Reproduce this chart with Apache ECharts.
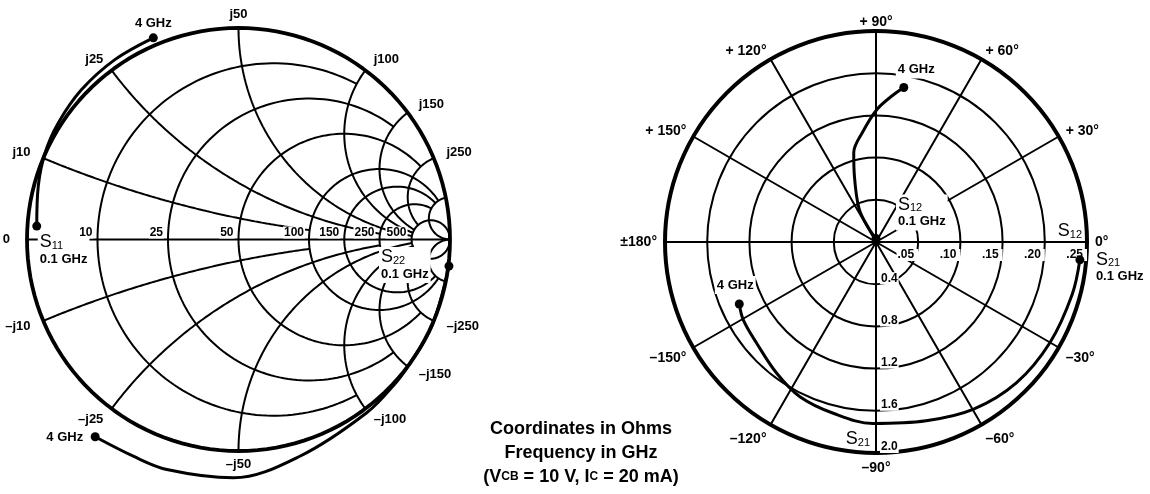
<!DOCTYPE html>
<html>
<head>
<meta charset="utf-8">
<script src="https://cdn.jsdelivr.net/npm/echarts@6/dist/echarts.min.js"></script>
<style>
html,body{margin:0;padding:0;background:#fff;}
#chart{width:1150px;height:494px;}
</style>
</head>
<body>
<div id="chart"></div>
<script>
// Smith chart grid, coordinates in ohms (Z0 = 50)
var z0 = 50;
var resistances = [10, 25, 50, 100, 150, 250, 500];
var resistanceStop = [100, 150, 250, 500, 500, 500, 1e6]; // |reactance| where each r circle stops
var reactances = [10, 25, 50, 100, 150, 250, 500];
var reactanceStop = [100, 250, 500, 500, 500, 500, 1e6];  // resistance where each x arc stops
var reactanceLabels = [10, 25, 50, 100, 150, 250];

// S11, S22 : magnitude / angle (deg), 0.1 GHz -> 4 GHz
var s11Mag = [0.956, 0.98, 1.002, 1.015, 1.026, 1.032, 1.035];
var s11Ang = [176.2, 165, 155.9, 147.1, 136.3, 124.5, 112.9];
var s22Mag = [1.003, 1.002, 1.0, 1.006, 1.019, 1.065, 1.127, 1.139, 1.139, 1.153];
var s22Ang = [-7.2, -24, -35.7, -42.2, -53.5, -74.2, -91.2, -107.3, -115.9, -126];

// S12 (scale .05 ... .25), S21 (scale 0.4 ... 2.0) : magnitude / angle (deg)
var s12Mag = [0.004, 0.018, 0.044, 0.083, 0.109, 0.131, 0.157, 0.174, 0.186];
var s12Ang = [90, 118, 117, 108, 104, 97, 89.6, 83.8, 79.8];
var s21Mag = [1.94, 1.925, 1.905, 1.885, 1.835, 1.76, 1.72, 1.673, 1.634, 1.56, 1.483, 1.459, 1.423];
var s21Ang = [-5, -15, -30, -45, -59.7, -74.3, -91, -104, -116.2, -127.1, -139.7, -149.5, -155.6];

var FONT = 'Liberation Sans';
var D = Math.PI / 180;

function gam(r, x) { // normalized impedance -> reflection coefficient
    var d = (r + 1) * (r + 1) + x * x;
    return [(r * r - 1 + x * x) / d, 2 * x / d];
}
function rCircle(rn, xmax) {
    var c = rn / (1 + rn), R = 1 / (1 + rn);
    var e = gam(rn, xmax);
    var a0 = Math.atan2(e[1], e[0] - c);
    var pts = [], n = 140;
    for (var i = 0; i <= n; i++) {
        var a = a0 + (2 * Math.PI - 2 * a0) * i / n;
        pts.push([c + R * Math.cos(a), R * Math.sin(a)]);
    }
    return pts;
}
function xArc(xn, rmax, sign) {
    var cy = 1 / xn, R = 1 / xn;
    var p0 = gam(0, xn), p1 = gam(rmax, xn);
    var a0 = Math.atan2(p0[1] - cy, p0[0] - 1);
    var a1 = Math.atan2(p1[1] - cy, p1[0] - 1);
    if (a0 < 0) a0 += 2 * Math.PI;
    if (a1 < a0) a1 += 2 * Math.PI;
    var pts = [], n = 120;
    for (var i = 0; i <= n; i++) {
        var a = a0 + (a1 - a0) * i / n;
        pts.push([1 + R * Math.cos(a), sign * (cy + R * Math.sin(a))]);
    }
    return pts;
}
function toXY(mag, ang) {
    return mag.map(function (m, i) { return [m * Math.cos(ang[i] * D), m * Math.sin(ang[i] * D)]; });
}

var series = [];
function gridLine(pts, w) {
    series.push({
        type: 'line', xAxisIndex: 0, yAxisIndex: 0, data: pts, showSymbol: false, silent: true,
        clip: false, lineStyle: {color: '#000', width: w || 2}, z: 1
    });
}
// outer circle + real axis
gridLine(rCircle(0, 1e9), 3.8);
gridLine([gam(0, 0), gam(1e9, 0)], 2);
resistances.forEach(function (r, i) { gridLine(rCircle(r / z0, resistanceStop[i] / z0)); });
reactances.forEach(function (x, i) {
    gridLine(xArc(x / z0, reactanceStop[i] / z0, 1));
    gridLine(xArc(x / z0, reactanceStop[i] / z0, -1));
});

var solid = {color: '#000', opacity: 1};
var lblStyle = {fontFamily: FONT, fontWeight: 'bold', fontSize: 12, color: '#000', opacity: 1,
    textBorderWidth: 0, textBorderColor: 'transparent'};
// reactance labels round the rim
var rimLabels = [{value: [-1.08, 0], label: {formatter: '0', align: 'right'}}];
reactanceLabels.forEach(function (x) {
    [1, -1].forEach(function (s) {
        var p = gam(0, s * x / z0);
        var align = p[0] < -0.05 ? 'right' : (p[0] > 0.05 ? 'left' : 'center');
        rimLabels.push({value: [p[0] * 1.065, p[1] * 1.065],
            label: {formatter: (s < 0 ? '–j' : 'j') + x, align: align}});
    });
});
series.push({
    type: 'scatter', xAxisIndex: 0, yAxisIndex: 0, symbolSize: 0, silent: true, clip: false,
    itemStyle: solid, data: rimLabels,
    label: Object.assign({show: true, position: 'inside', verticalAlign: 'middle'}, lblStyle, {fontSize: 13})
});
// resistance labels on the real axis
series.push({
    type: 'scatter', xAxisIndex: 0, yAxisIndex: 0, symbolSize: 0, silent: true, clip: false,
    itemStyle: solid,
    data: resistances.map(function (r) {
        var p = gam(r / z0, 0);
        return {value: p, label: {formatter: String(r)}};
    }),
    label: Object.assign({show: true, position: 'inside', align: 'right', verticalAlign: 'bottom',
        offset: [-4, -1], backgroundColor: '#fff', padding: [0, 1, 0, 1]}, lblStyle),
    z: 6
});

var rich = {
    s: {fontFamily: FONT, fontSize: 18, color: '#000', textBorderWidth: 0},
    sub: {fontFamily: FONT, fontSize: 11, color: '#000', padding: [7, 0, 0, 0], textBorderWidth: 0},
    f: {fontFamily: FONT, fontSize: 13, fontWeight: 'bold', color: '#000', lineHeight: 16, textBorderWidth: 0}
};
function curve(data, extra) {
    return Object.assign({
        type: 'line', data: data, showSymbol: false, smooth: 0.35, silent: true, clip: false,
        lineStyle: {color: '#000', width: 3}, z: 4
    }, extra);
}
function ends(data, lblFirst, lblLast, extra) {
    return Object.assign({
        type: 'scatter', symbolSize: 9, silent: true, clip: false,
        itemStyle: solid, z: 5,
        data: [
            {value: data[0], label: lblFirst},
            {value: data[data.length - 1], label: lblLast}
        ]
    }, extra);
}
function lbl(text, o) {
    return Object.assign({show: true, formatter: text, rich: rich, position: 'inside', color: '#000',
        opacity: 1, textBorderWidth: 0, backgroundColor: '#fff', padding: [1, 2, 1, 2]}, o);
}

var s11 = toXY(s11Mag, s11Ang);
var s22 = toXY(s22Mag, s22Ang);
var cart = {xAxisIndex: 0, yAxisIndex: 0};
series.push(curve(s11, cart));
series.push(curve(s22, cart));
series.push(ends(s11,
    lbl('{s|S}{sub|11}\n{f|0.1 GHz}', {align: 'left', verticalAlign: 'top', offset: [1, 6]}),
    lbl('{f|4 GHz}', {align: 'center', verticalAlign: 'bottom', offset: [0, -5]}), cart));
series.push(ends(s22,
    lbl('{s|S}{sub|22}\n{f|0.1 GHz}', {align: 'left', verticalAlign: 'top', offset: [-70, -19]}),
    lbl('{f|4 GHz}', {align: 'right', verticalAlign: 'middle', offset: [-10, 1]}), cart));

// polar data: S12 on polar 0, S21 on polar 1 (radius axis pointing down, angle measured from -90 deg)
var s12 = s12Mag.map(function (m, i) { return [m, s12Ang[i]]; });
var s21 = s21Mag.map(function (m, i) { return [m, s21Ang[i] + 90]; });
var p0 = {coordinateSystem: 'polar', polarIndex: 0};
var p1 = {coordinateSystem: 'polar', polarIndex: 1};
series.push(curve(s12, p0));
series.push(curve(s21, p1));
series.push(ends(s12,
    lbl('{s|S}{sub|12}\n{f|0.1 GHz}', {align: 'left', verticalAlign: 'top', offset: [20, -44]}),
    lbl('{f|4 GHz}', {align: 'left', verticalAlign: 'bottom', offset: [-8, -9]}), p0));
series.push(ends(s21,
    lbl('{s|S}{sub|21}\n{f|0.1 GHz}', {align: 'left', verticalAlign: 'top', offset: [14, -10]}),
    lbl('{f|4 GHz}', {align: 'center', verticalAlign: 'bottom', offset: [-4, -10]}), p1));
// scale names at the end of each radius scale
series.push({
    type: 'scatter', coordinateSystem: 'polar', polarIndex: 0, symbolSize: 0, silent: true, z: 5,
    itemStyle: solid,
    data: [{value: [0.25, 0], label: lbl('{s|S}{sub|12}', {align: 'right', verticalAlign: 'bottom', offset: [-4, -2], padding: [0, 1, 0, 1]})}]
});
series.push({
    type: 'scatter', coordinateSystem: 'polar', polarIndex: 1, symbolSize: 0, silent: true, z: 5,
    itemStyle: solid,
    data: [{value: [2.0, 0], label: lbl('{s|S}{sub|21}', {align: 'right', verticalAlign: 'bottom', offset: [-5, -5], padding: [0, 1, 0, 1]})}]
});

function angleLabel(v) {
    if (v === 0) return '0°';
    if (v === 180) return '±180°';
    return v < 180 ? '{u|+ ' + v + '°}' : '–' + (360 - v) + '°';
}

var option = {
    backgroundColor: '#fff',
    animation: false,
    title: {
        text: 'Coordinates in Ohms\nFrequency in GHz\n(V{sc|CB} = 10 V, I{sc|C} = 20 mA)',
        left: 576, top: 412, textAlign: 'center',
        textStyle: {fontFamily: FONT, fontSize: 18, fontWeight: 'bold', color: '#000', lineHeight: 24,
            rich: {sc: {fontFamily: FONT, fontSize: 12, fontWeight: 'bold', color: '#000'}}}
    },
    grid: [{left: 27, top: 28, width: 423, height: 423}],
    xAxis: [{type: 'value', min: -1, max: 1, show: false}],
    yAxis: [{type: 'value', min: -1, max: 1, show: false}],
    polar: [{center: [876, 242], radius: 211}, {center: [876, 242], radius: 211}],
    angleAxis: [{
        polarIndex: 0, type: 'value', min: 0, max: 360, interval: 30, startAngle: 0, clockwise: false,
        axisLine: {lineStyle: {color: '#000', width: 4}},
        axisTick: {show: false},
        axisLabel: {formatter: angleLabel, margin: 8, fontFamily: FONT, fontWeight: 'bold', fontSize: 14, color: '#000',
            rich: {u: {fontFamily: FONT, fontWeight: 'bold', fontSize: 14, color: '#000', lineHeight: 2}}},
        splitLine: {show: true, lineStyle: {color: '#000', width: 2}},
        z: 2
    }, {
        polarIndex: 1, type: 'value', min: 0, max: 360, interval: 30, startAngle: 270, clockwise: false,
        show: false
    }],
    radiusAxis: [{
        polarIndex: 0, min: 0, max: 0.25, interval: 0.05,
        axisLine: {show: true, lineStyle: {color: '#000', width: 2}},
        axisTick: {show: false},
        axisLabel: {formatter: function (v) { return v ? v.toFixed(2).replace(/^0/, '') : ''; },
            margin: -7, align: 'right', verticalAlign: 'top', fontFamily: FONT, fontWeight: 'bold',
            fontSize: 12, color: '#000', backgroundColor: '#fff', padding: [0, 4, 0, 1]},
        splitLine: {show: true, lineStyle: {color: '#000', width: 2}},
        z: 2
    }, {
        polarIndex: 1, min: 0, max: 2.0, interval: 0.4,
        axisLine: {show: false}, axisTick: {show: false}, splitLine: {show: false},
        axisLabel: {formatter: function (v) { return v ? v.toFixed(1) : ''; },
            margin: 4, verticalAlign: 'bottom', fontFamily: FONT, fontWeight: 'bold', fontSize: 12, color: '#000',
            backgroundColor: '#fff', padding: [0, 1, 0, 1]},
        z: 3
    }],
    series: series
};

var chart = echarts.init(document.getElementById('chart'));
chart.setOption(option);
</script>
</body>
</html>
